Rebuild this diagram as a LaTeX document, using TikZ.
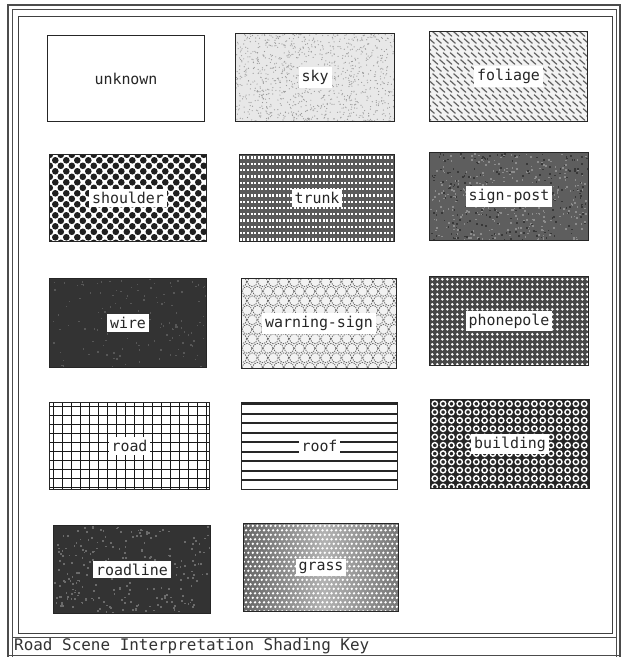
\documentclass[tikz,border=0pt]{standalone}
\usepackage{fontspec}
\setmonofont{DejaVu Sans Mono}
\newcommand\kb[5]{\path (#2,#3) node[minimum width=#4bp, minimum height=#5bp, inner sep=0pt] (#1) {};}
\newcommand\kpat[2]{\begin{scope}\clip (#1.north west) rectangle (#1.south east);\begin{scope}[shift={(#1.north west)}]#2\end{scope}\end{scope}}
\newcommand\kfin[2]{\draw[kframe] (#1.north west) rectangle (#1.south east);\node[klabel] (#1L) at (#1) {#2};}
\begin{document}
\begin{tikzpicture}[x=1bp,y=-1bp,
  kframe/.style={draw=black!85, line width=1.1bp},
  klabel/.style={fill=white, inner xsep=3bp, inner ysep=3bp, text=black!85,
    font=\ttfamily\fontsize{15}{15}\selectfont},
  frameline/.style={draw=black!70, line width=1.1bp}]
\useasboundingbox (0,0) rectangle (622,657);
\fill[white] (0,0) rectangle (622,657);
% outer double frame
\draw[frameline] (8,657) -- (8,5) -- (620,5) -- (620,657);
\draw[frameline, line width=0.8bp] (12,657) -- (12,9) -- (616,9) -- (616,657);
% inner frame
\draw[draw=black!75, line width=0.9bp] (18,16) rectangle (612,633);
\draw[frameline, line width=0.8bp] (12,637) -- (616,637);
\draw[frameline] (8,655.5) -- (620,655.5);
\node[anchor=west, inner sep=0pt, text=black!80, font=\ttfamily\fontsize{16}{16}\selectfont] (caption) at (14,646.5) {Road Scene Interpretation Shading Key};

% ---- boxes
\kb{unknown}{126}{78.5}{156}{85}
\kb{sky}{315}{77.5}{158}{87}
\kb{foliage}{508.5}{76.5}{157}{89}
\kb{shoulder}{128}{198}{156}{86}
\kb{trunk}{317}{198}{154}{86}
\kb{signpost}{509}{196.5}{158}{87}
\kb{wire}{128}{323}{156}{88}
\kb{warning}{319}{323.5}{154}{89}
\kb{phonepole}{509}{321}{158}{88}
\kb{road}{129.5}{446}{159}{86}
\kb{roof}{319.5}{446}{155}{86}
\kb{building}{510}{444}{158}{88}
\kb{roadline}{132}{569.5}{156}{87}
\kb{grass}{321}{567.5}{154}{87}

\pgfmathsetseed{7}
% sky
\kpat{sky}{\fill[black!9] (0,0) rectangle (160,92);
  \foreach \i in {1,...,1100}{\fill[black!40] (rnd*160,rnd*92) circle (0.6);}}
% foliage
\kpat{foliage}{\fill[black!5] (0,0) rectangle (160,92);
  \foreach \r in {0,...,13}{\foreach \c in {0,...,23}{
    \draw[black!62, line width=1.2bp, line cap=round] ({7*\c+3.5*mod(\r,2)-4},{7*\r}) -- ++(5,4.5);}}}
% shoulder
\kpat{shoulder}{\fill[white] (0,0) rectangle (160,92);
  \foreach \i in {0,...,29}{\foreach \j in {0,...,8}{
    \fill[black!88] ({5.5*\i},{11*\j+5.5*mod(\i,2)}) circle (3.3);}}}
% trunk
\kpat{trunk}{\fill[black!65] (0,0) rectangle (160,92);
  \foreach \k in {0,...,14}{\draw[white, line width=2.3bp, dash pattern=on 2bp off 1.6bp] (0,{2.8+6.3*\k}) -- (160,{2.8+6.3*\k});}}
% sign-post
\kpat{signpost}{\fill[black!63] (0,0) rectangle (160,92);
  \foreach \i in {1,...,350}{\fill[black!45] (rnd*160,rnd*92) rectangle ++(1.6,1.6);}
  \foreach \i in {1,...,250}{\fill[black!78] (rnd*160,rnd*92) rectangle ++(1.6,1.6);}}
% wire
\kpat{wire}{\fill[black!80] (0,0) rectangle (160,92);
  \foreach \i in {1,...,150}{\fill[black!66] (rnd*160,rnd*92) rectangle ++(1.5,1.5);}}
% warning-sign
\kpat{warning}{\fill[black!5] (0,0) rectangle (160,92);
  \foreach \j in {0,...,9}{\foreach \i in {0,...,15}{
    \draw[black!60, line width=0.8bp, dash pattern=on 1.4bp off 1bp] ({10.5*\i+5.25*mod(\j,2)},{9.5*\j+3}) circle (4.9);}}}
% phonepole
\kpat{phonepole}{\fill[black!72] (0,0) rectangle (160,92);
  \foreach \i in {0,...,31}{\foreach \j in {0,...,17}{
    \fill[white] ({5*\i+2.5},{5*\j+2.5}) circle (1.45);}}}
% road
\kpat{road}{\fill[white] (0,0) rectangle (160,92);
  \foreach \x in {4,13,...,160}{\draw[black!90, line width=1.3bp] (\x,0) -- (\x,92);}
  \foreach \y in {4,13,...,92}{\draw[black!90, line width=1.3bp] (0,\y) -- (160,\y);}}
% roof
\kpat{roof}{\fill[white] (0,0) rectangle (160,92);
  \foreach \y in {1.5,11,...,92}{\draw[black!85, line width=1.8bp] (0,\y) -- (160,\y);}}
% building
\kpat{building}{\fill[black!85] (0,0) rectangle (160,92);
  \foreach \i in {0,...,19}{\foreach \j in {0,...,11}{
    \draw[white, line width=1.4bp] ({8.3*\i+4},{8.3*\j+4}) circle (2.7);}}}
% roadline
\kpat{roadline}{\fill[black!80] (0,0) rectangle (160,92);
  \foreach \i in {1,...,260}{\fill[black!58] (rnd*160,rnd*92) rectangle ++(1.8,1.8);}}
% grass
\kpat{grass}{\shade[left color=black!60, right color=black!55, middle color=black!30] (0,0) rectangle (160,92);
  \foreach \i in {0,...,35}{\foreach \j in {0,...,20}{
    \fill[white] ({4.5*\i+2.25*mod(\j,2)},{4.5*\j+2}) circle (1.35);}}}

% frames and labels
\kfin{unknown}{unknown}
\kfin{sky}{sky}
\kfin{foliage}{foliage}
\kfin{shoulder}{shoulder}
\kfin{trunk}{trunk}
\kfin{signpost}{sign-post}
\kfin{wire}{wire}
\kfin{warning}{warning-sign}
\kfin{phonepole}{phonepole}
\kfin{road}{road}
\kfin{roof}{roof}
\kfin{building}{building}
\kfin{roadline}{roadline}
\kfin{grass}{grass}
\end{tikzpicture}
\end{document}
